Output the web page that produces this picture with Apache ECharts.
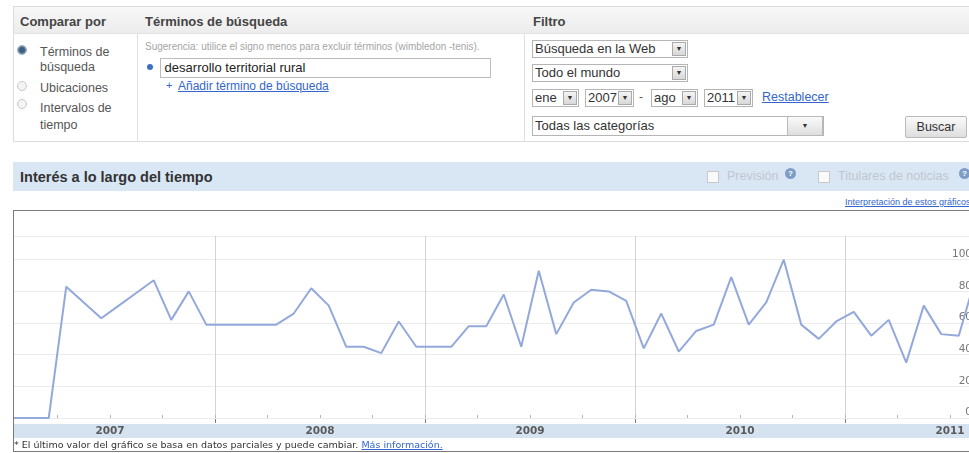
<!DOCTYPE html>
<html>
<head>
<meta charset="utf-8">
<script src="https://cdn.jsdelivr.net/npm/echarts@6/dist/echarts.min.js"></script>
<style>
  html, body { margin: 0; padding: 0; }
  body {
    width: 969px; height: 453px; overflow: hidden; position: relative;
    background: #fff; font-family: "Liberation Sans", Arial, sans-serif; color: #333;
  }
  .abs { position: absolute; white-space: nowrap; }
  .panel { left: 13px; top: 6px; width: 970px; height: 134px; border: 1px solid #dcdcdc; }
  .panel-head { left: 0; top: 0; width: 100%; height: 26px; background: linear-gradient(#f8f8f8, #ececec); border-bottom: 1px solid #e2e2e2; }
  .hd { font-size: 13px; font-weight: bold; color: #444; top: 15px; line-height: 13px; }
  .vdiv { top: 33px; width: 1px; height: 108px; background: #e0e0e0; }
  .opt { font-size: 12.5px; color: #555; line-height: 14px; }
  .radio { width: 8px; height: 8px; border-radius: 50%; border: 1px solid #c8c8c8; background: #f4f4f4; }
  .radio.on { background: radial-gradient(#3d5f85 45%, #8aa0b8 70%); border-color: #9aa9b8; }
  .link { color: #3366cc; text-decoration: underline; }
  .sel { height: 16px; border: 1px solid #b5b5b5; background: #fff; font-size: 13px; line-height: 16px; color: #333; }
  .sel span.t { position: absolute; left: 2px; top: 0; }
  .sel span.b { position: absolute; right: 1px; top: 1px; width: 12px; height: 12px; border: 1px solid #aaa;
                background: linear-gradient(#f4f4f4, #d8d8d8); font-size: 7px; line-height: 12px; text-align: center; color: #333; }
  .btn { border: 1px solid #b9b9b9; border-radius: 2px; background: linear-gradient(#fafafa, #dedede); font-size: 12.5px; text-align: center; color: #333; }
  .bar { left: 13px; top: 162px; width: 970px; height: 29px; background: #d9e6f4; }
  .chk { width: 10px; height: 10px; border: 1px solid #c9c9c9; background: #fafafa; top: 171px; }
  .faded { font-size: 12.5px; color: #c0c6cf; top: 170px; line-height: 13px; }
  .help { width: 11px; height: 11px; border-radius: 50%; background: #7e9cc6; color: #fff; font-size: 8px; line-height: 11px; text-align: center; top: 168px; font-weight: bold; }
  .box { left: 13px; top: 210px; width: 975px; height: 240px; border: 1px solid #7a7a7a; overflow: hidden; background: #fff; }
  .band { left: 0; top: 213px; width: 100%; height: 14px; background: #d5e3f1; }
  #chart { position: absolute; left: -9px; top: 0; width: 990px; height: 240px; }
  .foot { left: 0; top: 229px; font-size: 9.5px; color: #333; line-height: 10px; font-family: "DejaVu Sans", Verdana, sans-serif; }
</style>
</head>
<body>
<!-- filtro de búsqueda -->
<div class="abs panel">
  <div class="abs panel-head"></div>
</div>
<div class="abs hd" style="left:20px;">Comparar por</div>
<div class="abs hd" style="left:145px;">Términos de búsqueda</div>
<div class="abs hd" style="left:533px;">Filtro</div>
<div class="abs vdiv" style="left:137px;"></div>
<div class="abs vdiv" style="left:524px;"></div>

<div class="abs radio on" style="left:17px;top:45px;"></div>
<div class="abs opt" style="left:40px;top:45px;">Términos de</div>
<div class="abs opt" style="left:40px;top:60px;">búsqueda</div>
<div class="abs radio" style="left:17px;top:81px;"></div>
<div class="abs opt" style="left:40px;top:81px;">Ubicaciones</div>
<div class="abs radio" style="left:17px;top:99px;"></div>
<div class="abs opt" style="left:40px;top:101px;">Intervalos de</div>
<div class="abs opt" style="left:40px;top:118px;">tiempo</div>

<div class="abs" style="left:145px;top:41px;font-size:10px;color:#a5a5a5;">Sugerencia: utilice el signo menos para excluir términos (wimbledon -tenis).</div>
<div class="abs" style="left:147px;top:64px;width:6px;height:6px;border-radius:50%;background:#3f6fc4;"></div>
<div class="abs" style="left:160px;top:58px;width:329px;height:18px;border:1px solid #bdbdbd;font-size:13px;line-height:18px;color:#222;">&nbsp;desarrollo territorial rural</div>
<div class="abs" style="left:166px;top:79px;font-size:11px;color:#3366cc;">+</div>
<div class="abs link" style="left:178px;top:79px;font-size:12px;">Añadir término de búsqueda</div>

<div class="abs sel" style="left:532px;top:40px;width:154px;"><span class="t">Búsqueda en la Web</span><span class="b">&#9660;</span></div>
<div class="abs sel" style="left:532px;top:64px;width:154px;"><span class="t">Todo el mundo</span><span class="b">&#9660;</span></div>
<div class="abs sel" style="left:532px;top:89px;width:45px;"><span class="t">ene</span><span class="b">&#9660;</span></div>
<div class="abs sel" style="left:585px;top:89px;width:47px;"><span class="t">2007</span><span class="b">&#9660;</span></div>
<div class="abs" style="left:639px;top:90px;font-size:12px;color:#555;">-</div>
<div class="abs sel" style="left:651px;top:89px;width:45px;"><span class="t">ago</span><span class="b">&#9660;</span></div>
<div class="abs sel" style="left:704px;top:89px;width:47px;"><span class="t">2011</span><span class="b">&#9660;</span></div>
<div class="abs link" style="left:762px;top:90px;font-size:12.5px;">Restablecer</div>
<div class="abs sel" style="left:532px;top:116px;width:290px;height:18px;line-height:18px;"><span class="t">Todas las categorías</span>
  <span class="abs btn" style="right:0;top:-1px;width:34px;height:18px;font-size:7px;line-height:18px;">&#9660;</span></div>
<div class="abs btn" style="left:905px;top:116px;width:60px;height:20px;line-height:20px;">Buscar</div>

<!-- cabecera del gráfico -->
<div class="abs bar"></div>
<div class="abs" style="left:20px;top:169px;font-size:14.5px;font-weight:bold;color:#333;">Interés a lo largo del tiempo</div>
<div class="abs chk" style="left:707px;"></div>
<div class="abs faded" style="left:727px;">Previsión</div>
<div class="abs help" style="left:785px;">?</div>
<div class="abs chk" style="left:818px;"></div>
<div class="abs faded" style="left:838px;">Titulares de noticias</div>
<div class="abs help" style="left:959px;">?</div>
<div class="abs link" style="left:845px;top:197px;font-size:9px;">Interpretación de estos gráficos</div>

<div class="abs box">
  <div class="abs band"></div>
  <div id="chart"></div>
  <div class="abs foot">* El último valor del gráfico se basa en datos parciales y puede cambiar. <span class="link">Más información.</span></div>
</div>

<script>
// ene 2007 - ago 2011, one value per month
const startYear = 2007;
const interest = [
  0, 0, 0, 83, 73, 63, 71, 79, 87, 62, 80, 59,     // 2007
  59, 59, 59, 59, 66, 82, 71, 45, 45, 41, 61, 45,  // 2008
  45, 45, 58, 58, 78, 45, 93, 53, 73, 81, 80, 74,  // 2009
  44, 66, 42, 55, 59, 89, 59, 73, 100, 59, 50, 61, // 2010
  67, 52, 62, 35, 71, 53, 52, 90                   // 2011
];
const yearLabels = ['2007', '2008', '2009', '2010', '2011'];
const yMax = 115;

// x = months since start of ene 2007, points sit mid-month
const points = interest.map((v, i) => [i + 0.5, v]);

const chart = echarts.init(document.getElementById('chart'));
chart.setOption({
  animation: false,
  backgroundColor: 'transparent',
  grid: { left: 0, right: 10, top: 25, bottom: 33, containLabel: false, outerBoundsMode: 'none' },
  xAxis: [
    {
      type: 'value', position: 'bottom', min: 0, max: interest.length, interval: 3, offset: 5,
      axisLine: { show: false },
      axisTick: { show: true, inside: true, length: 3, lineStyle: { color: '#b5b5b5' } },
      splitLine: { show: false },
      axisLabel: {
        margin: 3, fontSize: 10.5, fontWeight: 'bold', color: '#5a5a5a',
        fontFamily: 'DejaVu Sans, Verdana, sans-serif',
        formatter: (v) => (v % 12 === 6 ? (yearLabels[(v - 6) / 12] || '') : '')
      }
    },
    {
      type: 'value', position: 'bottom', min: 0, max: interest.length, interval: 12, offset: 5,
      axisLine: { show: false },
      axisTick: { show: true, inside: true, length: 4, lineStyle: { color: '#7d7d7d' } },
      axisLabel: { show: false },
      splitLine: { show: true, lineStyle: { color: '#d3d3d3', width: 1 } }
    }
  ],
  yAxis: {
    type: 'value', position: 'right', min: 0, max: yMax, interval: 20,
    axisLine: { show: false },
    axisTick: { show: false },
    axisLabel: {
      inside: true, margin: 13, fontSize: 10.5, color: '#777', verticalAlign: 'bottom',
      fontFamily: 'DejaVu Sans, Verdana, sans-serif', showMaxLabel: false
    },
    splitLine: { show: true, lineStyle: { color: '#ececec', width: 1 } }
  },
  series: [{
    type: 'line',
    xAxisIndex: 0,
    data: points,
    showSymbol: false,
    lineStyle: { color: '#93a8db', width: 2 },
    itemStyle: { color: '#93a8db' },
    z: 5
  }]
});
</script>
</body>
</html>
